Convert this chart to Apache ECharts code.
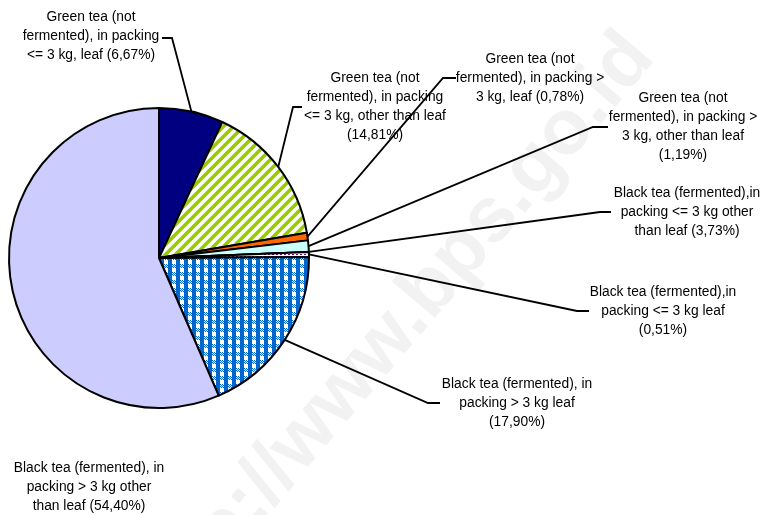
<!DOCTYPE html>
<html>
<head>
<meta charset="utf-8">
<script src="https://cdn.jsdelivr.net/npm/echarts@6/dist/echarts.min.js"></script>
<style>
  html, body { margin: 0; padding: 0; background: #fff; }
  #chart { width: 761px; height: 515px; }
</style>
</head>
<body>
<div id="chart"></div>
<script>
(function() {
  // slice names as printed, with the line breaks of the reference
  // (the trailing space or newline is what comes before the share)
  var names = [
    'Green tea (not\nfermented), in packing\n<= 3 kg, leaf ',
    'Green tea (not\nfermented), in packing\n<= 3 kg, other than leaf\n',
    'Green tea (not\nfermented), in packing >\n3 kg, leaf ',
    'Green tea (not\nfermented), in packing >\n3 kg, other than leaf\n',
    'Black tea (fermented),in\npacking <= 3 kg other\nthan leaf ',
    'Black tea (fermented),in\npacking <= 3 kg leaf\n',
    'Black tea (fermented), in\npacking > 3 kg leaf\n',
    'Black tea (fermented), in\npacking > 3 kg other\nthan leaf '
  ];
  // shares as written in the labels
  var shares = ['6,67', '14,81', '0,78', '1,19', '3,73', '0,51', '17,90', '54,40'];
  // slice sizes as drawn (the 3,73% slice has no visible width in the reference)
  var values = [6.67, 14.81, 0.78, 1.19, 0, 0.51, 17.90, 54.40];

  function tile(w, h, draw) {
    var c = document.createElement('canvas');
    c.width = w; c.height = h;
    var g = c.getContext('2d');
    g.fillStyle = '#fff';
    g.fillRect(0, 0, w, h);
    draw(g);
    return { image: c, repeat: 'repeat' };
  }

  var stripes = tile(10, 10, function(g) {
    g.strokeStyle = '#99cc00';
    g.lineWidth = 3.6;
    g.beginPath();
    g.moveTo(-5, 5); g.lineTo(5, -5);
    g.moveTo(-1, 11); g.lineTo(11, -1);
    g.moveTo(5, 15); g.lineTo(15, 5);
    g.stroke();
  });

  var gingham = tile(8, 8, function(g) {
    g.fillStyle = '#0066cc';
    for (var y = 0; y < 4; y++)
      for (var x = 0; x < 8; x++)
        if ((x + y) % 2 === 0) g.fillRect(x, y, 1, 1);
    g.fillRect(0, 0, 4, 8);
  });

  var dots = tile(4, 2, function(g) {
    g.fillStyle = '#800080';
    g.fillRect(0, 0, 2, 1);
  });

  var fills = ['#000080', stripes, '#ff6600', '#ccffff', '#993366', dots, gingham, '#ccccff'];

  // label centre, elbow and end of each leader line
  var place = [
    { x: 91, y: 36, elbow: [172, 38], end: [162, 38] },
    { x: 375, y: 107, elbow: [293, 107], end: [302, 107] },
    { x: 530, y: 78, elbow: [443, 78], end: [456, 78] },
    { x: 683, y: 127, elbow: [593, 127], end: [608, 127] },
    { x: 687, y: 212, elbow: [600, 212], end: [611, 212] },
    { x: 663, y: 311, elbow: [577, 311], end: [589, 311] },
    { x: 517, y: 403, elbow: [428, 403], end: [440, 403] },
    { x: 89, y: 487 }
  ];

  var data = values.map(function(v, i) {
    var d = { name: names[i], value: v, itemStyle: { color: fills[i] } };
    if (i === 7) d.labelLine = { show: false };
    return d;
  });

  var chart = echarts.init(document.getElementById('chart'));
  chart.setOption({
    animation: false,
    backgroundColor: '#fff',
    graphic: [{
      type: 'text',
      z: -10,
      x: 392, y: 335,
      rotation: 49.5 * Math.PI / 180,
      style: {
        text: 'http://www.bps.go.id',
        fontFamily: 'Arial, Liberation Sans, sans-serif',
        fontWeight: 'bold',
        fontSize: 78,
        fill: '#f2f2f2',
        align: 'center',
        verticalAlign: 'middle'
      }
    }],
    series: [{
      type: 'pie',
      center: [159, 258],
      radius: 150,
      startAngle: 90,
      clockwise: true,
      avoidLabelOverlap: false,
      itemStyle: { borderColor: '#000', borderWidth: 2 },
      label: {
        show: true,
        color: '#000',
        fontFamily: 'Arial, Liberation Sans, sans-serif',
        fontSize: 13.8,
        lineHeight: 19,
        align: 'center',
        formatter: function(p) { return p.name + '(' + shares[p.dataIndex] + '%)'; }
      },
      labelLine: { show: true, lineStyle: { color: '#000', width: 1.8 } },
      labelLayout: function(p) {
        var s = place[p.dataIndex];
        var out = { x: s.x, y: s.y, align: 'center', verticalAlign: 'middle' };
        if (s.elbow && p.labelLinePoints) {
          out.labelLinePoints = [p.labelLinePoints[0], s.elbow, s.end];
        }
        return out;
      },
      emphasis: { disabled: true },
      data: data
    }]
  });
})();
</script>
</body>
</html>
